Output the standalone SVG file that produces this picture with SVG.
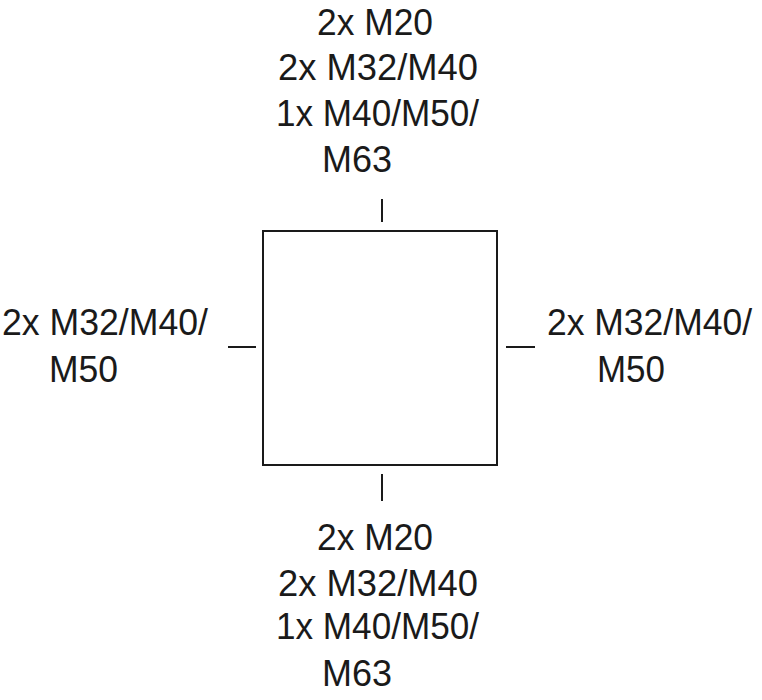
<svg xmlns="http://www.w3.org/2000/svg" width="762" height="700" viewBox="0 0 762 700">
<style>
.t{font-family:"Liberation Sans","Open Sans",Arial,sans-serif;font-size:37px;fill:#1a1a1a}
.l{stroke:#1a1a1a;stroke-width:2;fill:none}
</style>
<rect width="762" height="700" fill="#fff"/>
<g id="box"><rect class="l" x="263" y="231" width="234" height="234"/></g>
<g id="connectors">
<line class="l" x1="382" y1="199" x2="382" y2="222"/>
<line class="l" x1="382" y1="474" x2="382" y2="501"/>
<line class="l" x1="228" y1="347" x2="256" y2="347"/>
<line class="l" x1="506" y1="347" x2="535" y2="347"/>
</g>
<g id="label-top">
<text class="t" x="317" y="35" textLength="116" lengthAdjust="spacingAndGlyphs">2x M20</text>
<text class="t" x="278" y="80" textLength="200" lengthAdjust="spacingAndGlyphs">2x M32/M40</text>
<text class="t" x="276" y="126" textLength="203" lengthAdjust="spacingAndGlyphs">1x M40/M50/</text>
<text class="t" x="322" y="172" textLength="70" lengthAdjust="spacingAndGlyphs">M63</text>
</g>
<g id="label-left">
<text class="t" x="2" y="335" textLength="206" lengthAdjust="spacingAndGlyphs">2x M32/M40/</text>
<text class="t" x="49" y="382" textLength="69" lengthAdjust="spacingAndGlyphs">M50</text>
</g>
<g id="label-right">
<text class="t" x="547" y="335" textLength="205" lengthAdjust="spacingAndGlyphs">2x M32/M40/</text>
<text class="t" x="597" y="382" textLength="68" lengthAdjust="spacingAndGlyphs">M50</text>
</g>
<g id="label-bottom">
<text class="t" x="317" y="550" textLength="116" lengthAdjust="spacingAndGlyphs">2x M20</text>
<text class="t" x="278" y="596" textLength="200" lengthAdjust="spacingAndGlyphs">2x M32/M40</text>
<text class="t" x="276" y="639" textLength="203" lengthAdjust="spacingAndGlyphs">1x M40/M50/</text>
<text class="t" x="322" y="686" textLength="70" lengthAdjust="spacingAndGlyphs">M63</text>
</g>
</svg>
